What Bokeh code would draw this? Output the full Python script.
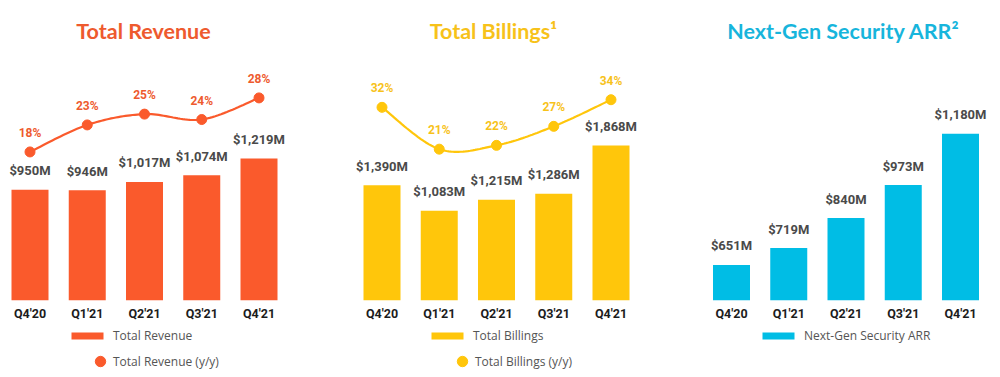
import numpy as np
from bokeh.plotting import figure
from bokeh.models import (Range1d, Legend, LegendItem, ColumnDataSource, FixedTicker)
from bokeh.core.properties import value
from bokeh.layouts import row, column
from bokeh.embed import file_html
from bokeh.resources import INLINE

quarters = ["Q4'20", "Q1'21", "Q2'21", "Q3'21", "Q4'21"]
revenue = [950, 946, 1017, 1074, 1219]
revenue_yy = [18, 23, 25, 24, 28]
billings = [1390, 1083, 1215, 1286, 1868]
billings_yy = [32, 21, 22, 27, 34]
arr = [651, 719, 840, 973, 1180]

ORANGE = "#FA5A2C"
ORANGE_T = "#EE5A2E"
YELLOW = "#FFC60B"
YELLOW_T = "#F7C21A"
CYAN = "#00BDE5"
CYAN_T = "#17B5DC"

H_TOP = 323
H_LEG = 54
TOP = 60
BOTTOM = 20
STEP = 57.25


def smooth(xs, ys, n=24):
    pts = list(zip(xs, ys))
    out_x, out_y = [], []
    for i in range(len(pts) - 1):
        p0 = pts[i - 1] if i > 0 else pts[i]
        p1 = pts[i]
        p2 = pts[i + 1]
        p3 = pts[i + 2] if i + 2 < len(pts) else pts[i + 1]
        for t in np.linspace(0, 1, n, endpoint=(i == len(pts) - 2)):
            t2, t3 = t * t, t * t * t
            for k, arrk in ((0, out_x), (1, out_y)):
                v = 0.5 * ((2 * p1[k]) + (-p0[k] + p2[k]) * t +
                           (2 * p0[k] - 5 * p1[k] + 4 * p2[k] - p3[k]) * t2 +
                           (-p0[k] + 3 * p1[k] - 3 * p2[k] + p3[k]) * t3)
                arrk.append(v)
    return out_x, out_y


def fmt_money(v):
    return "${:,}M".format(v)


def legend_kw():
    return dict(padding=0, margin=0, spacing=0,
                border_line_color=None, background_fill_alpha=0,
                inactive_fill_alpha=0,
                label_text_font="Open Sans", label_text_font_size="12px",
                label_text_color="#555555")


def make_panel(width, left, right, first_center, yrange, title, title_color,
               vals, color, pct=None, pct_range=None):
    frame_w = width - left - right
    xs = -(first_center - left) / STEP
    xe = xs + frame_w / STEP
    p = figure(width=width, height=H_TOP, x_range=Range1d(xs, xe),
               y_range=Range1d(*yrange), output_backend="svg",
               toolbar_location=None, y_axis_location=None,
               min_border_left=left, min_border_right=right,
               min_border_top=TOP, min_border_bottom=BOTTOM,
               title=title)
    p.outline_line_color = None
    p.grid.visible = False
    p.background_fill_color = "white"
    p.border_fill_color = "white"
    p.title.align = "center"
    p.title.vertical_align = "top"
    p.title.text_font = "Lato"
    p.title.text_font_style = "bold"
    p.title.text_font_size = "21.5px"
    p.title.text_color = title_color
    p.title.standoff = 30

    ax = p.xaxis[0]
    ax.ticker = FixedTicker(ticks=list(range(len(quarters))))
    ax.major_label_overrides = {i: q for i, q in enumerate(quarters)}
    ax.axis_line_color = None
    ax.major_tick_line_color = None
    ax.minor_tick_line_color = None
    ax.major_tick_out = 0
    ax.major_tick_in = 0
    ax.major_label_standoff = 5
    ax.major_label_text_font = "Roboto"
    ax.major_label_text_font_style = "bold"
    ax.major_label_text_font_size = "12.5px"
    ax.major_label_text_color = "#1c1c1c"

    idx = list(range(len(quarters)))
    src = ColumnDataSource(dict(x=idx, v=vals, lab=[fmt_money(v) for v in vals]))
    p.vbar(x="x", top="v", bottom=0, width=37 / STEP, source=src,
           fill_color=color, line_color=None)
    p.text(x="x", y="v", text="lab", source=src, text_align="center",
           text_baseline="middle", y_offset=-19,
           text_font=value("Roboto"), text_font_style="bold",
           text_font_size="13px", text_color="#4a4a4a")

    if pct is not None:
        p.extra_y_ranges = {"pct": Range1d(*pct_range)}
        sx, sy = smooth(idx, pct)
        p.line(sx, sy, y_range_name="pct", line_color=color, line_width=2.2)
        psrc = ColumnDataSource(dict(x=idx, y=pct, lab=["{}%".format(v) for v in pct]))
        p.scatter(x="x", y="y", source=psrc, y_range_name="pct", size=10,
                  fill_color=color, line_color=color)
        p.text(x="x", y="y", text="lab", source=psrc, y_range_name="pct",
               text_align="center", text_baseline="middle", y_offset=-19,
               text_font=value("Roboto"), text_font_style="bold",
               text_font_size="12px", text_color=title_color)
    return p


def make_legend(width, color, vals, bar_label, bar_x, pct=None, pct_label=None, circ_x=0):
    q = figure(width=width, height=H_LEG, x_range=Range1d(0, 1), y_range=Range1d(0, 1),
               output_backend="svg", toolbar_location=None,
               x_axis_location=None, y_axis_location=None,
               min_border=0, min_border_left=0, min_border_right=0,
               min_border_top=0, min_border_bottom=0)
    q.outline_line_color = None
    q.grid.visible = False
    idx = list(range(len(quarters)))
    bars = q.vbar(x=idx, top=vals, width=1, fill_color=color, line_color=None)
    bars.visible = False
    q.add_layout(Legend(items=[LegendItem(label=bar_label, renderers=[bars])],
                        location=(bar_x, 33), glyph_width=40, glyph_height=9,
                        label_height=9, label_standoff=6, **legend_kw()))
    if pct_label:
        circ = q.scatter(x=idx, y=pct, size=10, fill_color=color, line_color=color)
        circ.visible = False
        q.add_layout(Legend(items=[LegendItem(label=pct_label, renderers=[circ])],
                            location=(circ_x, 3), glyph_width=26, glyph_height=26,
                            label_height=26, label_standoff=0, **legend_kw()))
    return q


FH = H_TOP - TOP - BOTTOM
p1 = make_panel(330, 0, 44, 29.5, (0, FH / 0.118), "Total Revenue",
                ORANGE_T, revenue, ORANGE, pct=revenue_yy,
                pct_range=(-9.5, -9.5 + FH / 5.47))
p2 = make_panel(340, 0, 14, 51.5, (0, FH / 0.084), "Total Billings\u00b9",
                YELLOW_T, billings, YELLOW, pct=billings_yy,
                pct_range=(-18.8, -18.8 + FH / 3.85))
p3 = make_panel(330, 16, 0, 61, (508, 508 + FH / 0.2514),
                "Next-Gen Security ARR\u00b2", CYAN_T, arr, CYAN)

l1 = make_legend(330, ORANGE, revenue, "Total Revenue", 67, revenue_yy, "Total Revenue (y/y)", 87)
l2 = make_legend(340, YELLOW, billings, "Total Billings", 97, billings_yy, "Total Billings (y/y)", 119)
l3 = make_legend(330, CYAN, arr, "Next-Gen Security ARR", 88)

layout = column(row(p1, p2, p3, spacing=0), row(l1, l2, l3, spacing=0), spacing=0)
open("out.html", "w").write(file_html(layout, INLINE))
